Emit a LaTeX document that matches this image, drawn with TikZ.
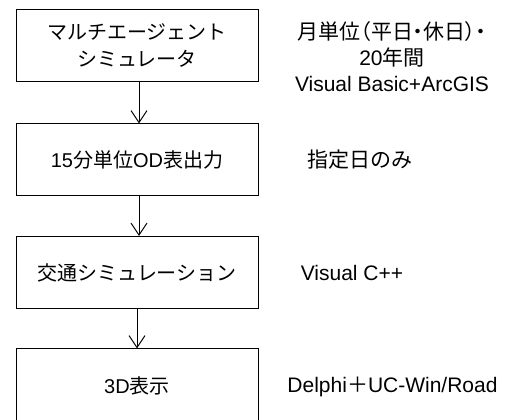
\documentclass[tikz,border=0pt]{standalone}
\usepackage{fontspec}
\setmainfont{Liberation Sans}
\newfontfamily\jp{Noto Sans CJK JP}
\newfontfamily\jpp[RawFeature=+palt]{Noto Sans CJK JP}
\usetikzlibrary{arrows.meta}
\begin{document}
\begin{tikzpicture}[x=1pt,y=1pt,
  box/.style={draw,line width=1pt,minimum width=242pt,minimum height=72pt,inner sep=0pt,align=center,font=\fontsize{20}{27}\selectfont},
  note/.style={align=center,inner sep=0pt,font=\fontsize{21}{26}\selectfont},
  flow/.style={line width=1pt,-{Straight Barb[length=12pt,width=16pt,line width=1pt]}}]
\useasboundingbox (0,0) rectangle (507,420);
\node[box] (b1) at (137,374) {{\jp マルチエージェント}\\{\jp シミュレータ}};
\node[box] (b2) at (137,260) {15{\jp 分単位}OD{\jp 表出力}};
\node[box] (b3) at (137,147.5) {{\jp 交通シミュレーション}};
\node[box,minimum height=74pt] (b4) at (137,34) {3D{\jp 表示}};
\node[note] (n1) at (392,363) {{\jpp 月単位（平日・休日）・}\\20{\jp 年間}\\Visual Basic+ArcGIS};
\node[note] (n2) at (360,260) {{\jp 指定日のみ}};
\node[note] (n3) at (352,147) {Visual C++};
\node[note] (n4) at (392.5,33) {Delphi{\jp ＋}UC-Win/Road};
\draw[flow] ([xshift=2pt]b1.south) -- ([xshift=2pt]b2.north);
\draw[flow] ([xshift=2pt]b2.south) -- ([xshift=2pt]b3.north);
\draw[flow] ([xshift=0pt]b3.south) -- ([xshift=0pt]b4.north);
\end{tikzpicture}
\end{document}
